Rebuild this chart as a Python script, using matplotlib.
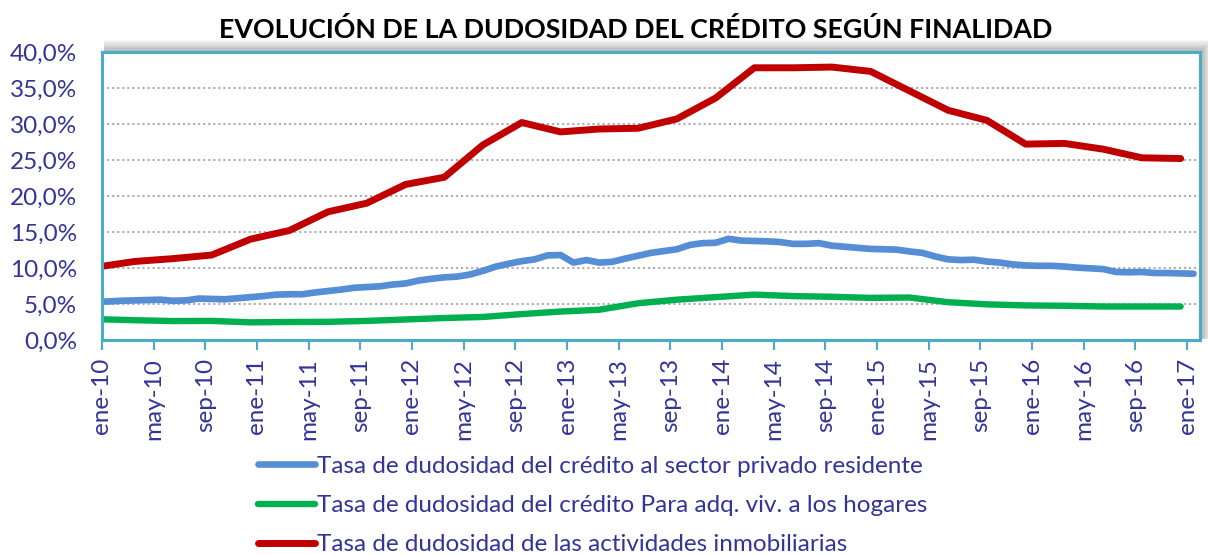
import numpy as np
import matplotlib.pyplot as plt
from matplotlib.patches import Rectangle

plt.rcParams['font.family'] = ['Lato', 'DejaVu Sans']

# Axis labels (every 4 months, ene-10 .. ene-17)
tick_labels = ['ene-10', 'may-10', 'sep-10', 'ene-11', 'may-11', 'sep-11',
               'ene-12', 'may-12', 'sep-12', 'ene-13', 'may-13', 'sep-13',
               'ene-14', 'may-14', 'sep-14', 'ene-15', 'may-15', 'sep-15',
               'ene-16', 'may-16', 'sep-16', 'ene-17']

# Monthly series, dic-09 .. ene-17 (%)
privado = [5.3,
           5.35, 5.45, 5.5, 5.55, 5.6, 5.45, 5.5, 5.75, 5.7, 5.65, 5.8, 5.95,
           6.1, 6.3, 6.35, 6.35, 6.6, 6.8, 7.0, 7.25, 7.35, 7.45, 7.7, 7.85,
           8.25, 8.5, 8.7, 8.8, 9.1, 9.6, 10.2, 10.6, 10.95, 11.2, 11.75, 11.8,
           10.75, 11.1, 10.75, 10.85, 11.3, 11.7, 12.1, 12.35, 12.6, 13.2, 13.45, 13.5,
           14.05, 13.8, 13.75, 13.7, 13.6, 13.35, 13.35, 13.45, 13.1, 12.95, 12.8, 12.65,
           12.6, 12.55, 12.3, 12.1, 11.6, 11.2, 11.1, 11.15, 10.9, 10.75, 10.5, 10.35,
           10.3, 10.3, 10.2, 10.05, 9.95, 9.85, 9.45, 9.4, 9.45, 9.3, 9.3, 9.25,
           9.2]

# Quarterly series, dic-09 .. dic-16 (%)
vivienda = [2.9, 2.75, 2.63, 2.65, 2.45, 2.5, 2.52, 2.65, 2.85, 3.05, 3.2, 3.6,
            3.95, 4.2, 5.1, 5.6, 5.95, 6.3, 6.1, 6.0, 5.85, 5.9, 5.25, 4.95,
            4.8, 4.75, 4.65, 4.65, 4.65]
inmobiliarias = [10.1, 10.9, 11.3, 11.8, 14.0, 15.2, 17.8, 19.0, 21.6, 22.6, 27.1, 30.2,
                 28.9, 29.3, 29.4, 30.7, 33.6, 37.8, 37.8, 37.9, 37.3, 34.6, 31.9, 30.5,
                 27.2, 27.3, 26.5, 25.3, 25.2]

labels = ['Tasa de dudosidad del crédito al sector privado residente',
          'Tasa de dudosidad del crédito Para adq. viv. a los hogares',
          'Tasa de dudosidad de las actividades inmobiliarias']

x_month = np.arange(len(privado)) - 0.5
x_quarter = np.arange(len(inmobiliarias)) * 3 - 0.5

text_color = '#333399'
frame_color = '#4BACC6'

fig = plt.figure(figsize=(12.08, 5.55), dpi=100)
ax = fig.add_axes([0.0844, 0.3874, 0.909, 0.519])
ax.set_zorder(2)
ax.patch.set_facecolor('white')

# soft shadow behind the plot area (offset up/right)
for k in range(1, 10):
    fig.patches.append(Rectangle((0.0844 + 0.0015, 0.3874 + 0.002), 0.909 + k * 0.0009, 0.519 + k * 0.0022,
                                 transform=fig.transFigure, facecolor='black', edgecolor='none',
                                 alpha=0.03, zorder=0))

ax.plot(x_month, privado, color='#558ED5', lw=4.8, solid_capstyle='round', label=labels[0])
ax.plot(x_quarter, vivienda, color='#00B050', lw=4.6, solid_capstyle='round', label=labels[1])
ax.plot(x_quarter, inmobiliarias, color='#C00000', lw=5.0, solid_capstyle='round', label=labels[2])

ax.set_xlim(0, 85)
ax.set_ylim(0, 40)
ax.set_yticks(np.arange(0, 41, 5))
ax.set_yticklabels([f'{v:.1f}'.replace('.', ',') + '%' for v in np.arange(0, 41, 5)])
ax.set_xticks(np.arange(0, 85, 4))
ax.set_xticklabels(tick_labels, rotation=90)

ax.yaxis.grid(True, linestyle=(0, (1.2, 1.6)), color='#A6A6A6', lw=1.3)
ax.set_axisbelow(True)
ax.tick_params(axis='y', length=0, labelsize=17.5, labelcolor=text_color, pad=18)
ax.tick_params(axis='x', length=7, width=1.5, color=frame_color, direction='out',
               labelsize=17.5, labelcolor=text_color, pad=6)
for s in ax.spines.values():
    s.set_color(frame_color)
    s.set_linewidth(2.2)

fig.text(0.526, 0.946, 'EVOLUCIÓN DE LA DUDOSIDAD DEL CRÉDITO SEGÚN FINALIDAD',
         ha='center', va='center', fontsize=19.3, fontweight='bold', color='black')

leg = fig.legend(loc='upper left', bbox_to_anchor=(0.2055, 0.196), frameon=False,
                 fontsize=17.5, handlelength=2.35, handletextpad=0.06, labelspacing=0.75,
                 borderaxespad=0)
for t in leg.get_texts():
    t.set_color(text_color)

plt.savefig('out.png', dpi=100)
plt.close()
